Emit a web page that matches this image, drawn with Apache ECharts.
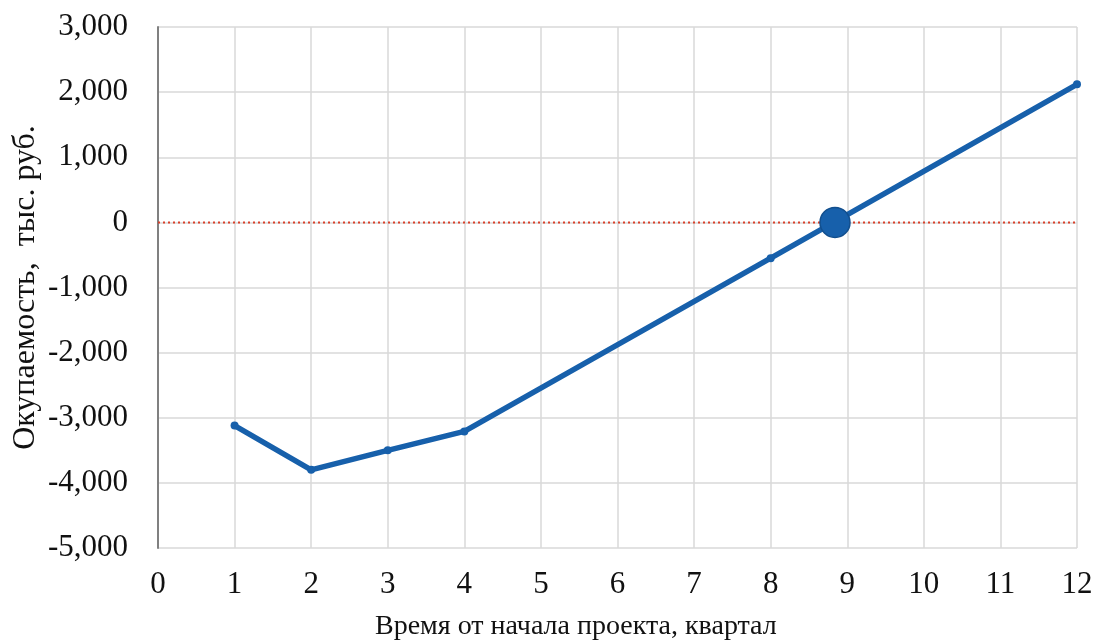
<!DOCTYPE html>
<html>
<head>
<meta charset="utf-8">
<script src="https://cdn.jsdelivr.net/npm/echarts@6/dist/echarts.min.js"></script>
<style>
  html, body { margin: 0; padding: 0; background: #fff; }
  #chart { width: 1097px; height: 643px; }
</style>
</head>
<body>
<div id="chart"></div>
<script>
// quarters with points and payback values, thousand rub
const quarters = [1, 2, 3, 4, 8, 12]
const payback = [-3120, -3800, -3500, -3210, -550, 2120]
// break-even point
const breakEven = [8.84, 0]
const zeroLine = [[0, 0], [12, 0]]

const font = '"Liberation Serif", "DejaVu Serif", serif'

const chart = echarts.init(document.getElementById('chart'))
chart.setOption({
  animation: false,
  grid: { left: 158, right: 20, top: 27, bottom: 95, outerBoundsMode: 'none' },
  xAxis: {
    type: 'value',
    min: 0,
    max: 12,
    interval: 1,
    axisLine: { show: false, onZero: false },
    axisTick: { show: false },
    axisLabel: { fontFamily: font, fontSize: 31, color: '#111', margin: 21 },
    splitLine: { lineStyle: { color: '#d9d9d9', width: 1.5 } }
  },
  yAxis: {
    type: 'value',
    min: -5000,
    max: 3000,
    interval: 1000,
    name: 'Окупаемость,  тыс. руб.',
    nameLocation: 'middle',
    nameGap: 116,
    nameMoveOverlap: false,
    nameTextStyle: { fontFamily: font, fontSize: 32, color: '#111' },
    axisLine: { show: true, onZero: false, lineStyle: { color: '#808080', width: 2 } },
    axisTick: { show: false },
    axisLabel: {
      fontFamily: font, fontSize: 31, color: '#111', margin: 30,
      formatter: v => v.toLocaleString('en-US')
    },
    splitLine: { lineStyle: { color: '#d9d9d9', width: 1.5 } }
  },
  graphic: [{
    type: 'text',
    left: 375,
    top: 613,
    style: { text: 'Время от начала проекта, квартал', font: '28px ' + font, fill: '#111' }
  }],
  series: [
    {
      type: 'line',
      data: zeroLine,
      symbol: 'none',
      lineStyle: { color: '#d9402a', width: 2, type: [2, 3] },
      z: 2
    },
    {
      type: 'line',
      data: quarters.map((q, i) => [q, payback[i]]),
      symbol: 'circle',
      symbolSize: 8,
      itemStyle: { color: '#1760ab' },
      lineStyle: { color: '#1760ab', width: 5.5 },
      z: 3
    },
    {
      type: 'scatter',
      data: [breakEven],
      symbolSize: 30,
      itemStyle: { color: '#1760ab', opacity: 1, borderColor: '#124f8e', borderWidth: 1.5 },
      z: 4
    }
  ]
})
</script>
</body>
</html>
